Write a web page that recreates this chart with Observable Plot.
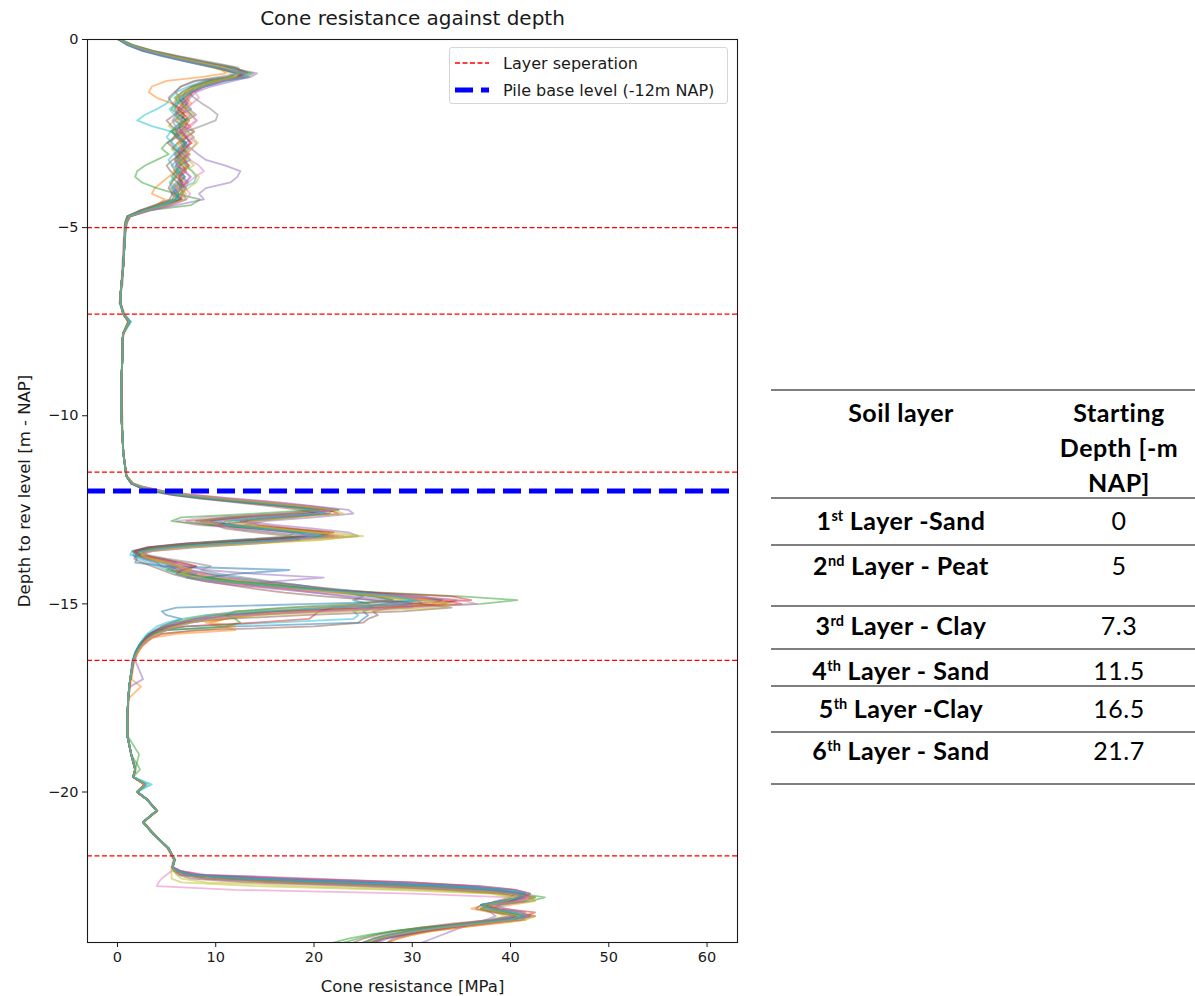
<!DOCTYPE html>
<html>
<head>
<meta charset="utf-8">
<script src="https://cdn.jsdelivr.net/npm/d3@7"></script>
<script src="https://cdn.jsdelivr.net/npm/@observablehq/plot@0.6"></script>
<style>
  html, body { margin: 0; padding: 0; background: #fff; }
  body { width: 1195px; height: 996px; overflow: hidden; position: relative; font-family: "DejaVu Sans", sans-serif; }
  #chart { position: absolute; left: 0; top: 0; }
  #legend { position: absolute; left: 449px; top: 47px; width: 277px; height: 55px; border: 1px solid #d6d6d6; border-radius: 3px; background: rgba(255,255,255,0.85); color: #1a1a1a; font-size: 16px; }
  #legend .item { position: absolute; left: 5px; height: 20px; display: flex; align-items: center; white-space: nowrap; }
  #legend svg { margin-right: 14px; }
  #table { position: absolute; left: 0; top: 0; width: 1195px; height: 996px; pointer-events: none; font-family: Lato, "Open Sans", sans-serif; color: #000; }
  #table .rule { position: absolute; left: 771px; width: 424px; height: 2px; background: #7f7f7f; }
  #table .cell { position: absolute; transform: translate(-50%, -50%); white-space: nowrap; font-size: 25px; letter-spacing: 0.5px; line-height: 1; }
  #table .b { font-weight: 700; }
  #table sup { font-size: 0.58em; vertical-align: 0.6em; line-height: 0; letter-spacing: 0; }
</style>
</head>
<body>
<div id="chart"></div>
<div id="legend"></div>
<div id="table"></div>
<script>
// ---------------- data ----------------
// depth below reference level [m]; each CPT trace below gives cone resistance [MPa] at these depths
const depthM = [
  0, 0.15, 0.3, 0.45, 0.6, 0.75, 0.9, 1.0, 1.1, 1.25, 1.4, 1.55, 1.7, 1.85, 2.0, 2.15, 2.3, 2.45, 2.6, 2.75, 2.9, 3.05, 3.2, 3.35, 3.5, 3.65, 3.8, 3.95, 4.1, 4.25, 4.4, 4.55, 4.7,
  4.85, 5.0, 5.5, 6.0, 6.5, 6.8, 7.0, 7.3, 7.5, 7.8, 8.0, 8.5, 9.0, 10.0, 11.0, 11.6,
  11.8, 11.9, 12.0, 12.1, 12.2, 12.3, 12.4, 12.5, 12.6, 12.7, 12.8, 12.9, 13.0, 13.1, 13.2, 13.3, 13.4, 13.5, 13.6, 13.7, 13.8, 13.9, 14.0, 14.1, 14.2, 14.3, 14.4, 14.5, 14.6, 14.7, 14.8, 14.9, 15.0, 15.1, 15.2, 15.3, 15.4, 15.5, 15.6, 15.7, 15.8, 15.9, 16.0, 16.1, 16.2, 16.3,
  16.5, 17.0, 17.2, 17.5, 18.0, 18.5, 19.0, 19.4, 19.6, 19.8, 20.0, 20.2, 20.5, 20.8, 21.1, 21.5, 21.8, 22.0,
  22.1, 22.2, 22.3, 22.4, 22.5, 22.6, 22.7, 22.8, 22.9, 23.0, 23.1, 23.2, 23.3, 23.4, 23.5, 23.6, 23.7, 23.8, 23.9, 24.0
];
const q01 = [
  0.1, 1.0, 2.5, 4.6, 7.2, 9.8, 12.2, 12.6, 10.0, 8.2, 7.1, 6.0, 6.9, 7.5, 6.4, 5.8, 6.6, 7.8, 7.0, 6.1, 5.6, 6.8, 7.4, 6.3, 5.9, 6.6, 7.2, 6.1, 5.5, 6.3, 4.8, 2.9, 1.1,
  0.9, 0.8, 0.7, 0.6, 0.4, 0.3, 0.2, 0.6, 1.1, 0.6, 0.5, 0.5, 0.4, 0.4, 0.6, 0.9,
  1.4, 2.3, 3.8, 6.0, 9.5, 13.5, 17.5, 20.5, 18.0, 12.0, 9.0, 11.5, 17.0, 21.0, 19.0, 12.0, 6.5, 3.0, 1.8, 2.4, 4.5, 6.0, 5.0, 7.5, 9.5, 12.0, 15.0, 18.5, 21.0, 23.5, 25.0, 24.0, 25.5, 26.0, 25.0, 25.5, 25.0, 24.5, 12.0, 5.0, 3.5, 3.0, 2.5, 2.2, 2.0, 1.8,
  1.5, 1.3, 1.2, 1.1, 1.0, 1.0, 1.4, 1.8, 1.6, 2.9, 2.0, 3.1, 4.0, 2.6, 3.6, 5.2, 5.9, 5.6,
  6.2, 7.5, 14.0, 25.0, 34.0, 39.0, 41.5, 41.0, 39.0, 37.0, 38.5, 40.5, 41.0, 39.0, 36.0, 33.0, 30.5, 28.5, 27.0, 26.0
];
const q02 = [
  0.2, 1.4, 3.2, 5.5, 8.0, 10.5, 11.0, 8.5, 5.0, 3.5, 3.2, 4.0, 5.5, 6.5, 7.2, 6.0, 6.6, 5.4, 6.9, 7.6, 6.5, 5.8, 6.2, 7.0, 6.0, 5.2, 4.5, 3.8, 3.5, 4.8, 4.0, 2.5, 1.3,
  1.0, 0.8, 0.7, 0.6, 0.5, 0.3, 0.3, 0.7, 1.3, 0.7, 0.5, 0.5, 0.4, 0.5, 0.6, 1.0,
  1.6, 2.8, 4.5, 7.0, 11.0, 15.5, 19.5, 22.5, 20.0, 13.0, 8.5, 10.0, 15.0, 19.5, 22.0, 16.0, 10.0, 4.5, 2.5, 3.0, 4.0, 5.5, 7.0, 6.0, 8.0, 10.0, 13.0, 17.0, 21.0, 25.0, 29.0, 33.0, 32.0, 26.0, 18.0, 13.0, 11.0, 9.5, 12.0, 9.0, 4.5, 3.5, 3.0, 2.6, 2.3, 2.0,
  1.7, 1.4, 2.4, 1.2, 1.0, 1.0, 1.4, 1.9, 1.6, 2.7, 2.1, 3.0, 4.1, 2.7, 3.7, 5.1, 5.7, 5.5,
  5.8, 6.5, 10.0, 19.0, 30.0, 37.0, 40.5, 42.5, 41.0, 37.5, 36.0, 38.0, 41.0, 41.5, 38.0, 35.0, 32.0, 30.0, 28.5, 27.5
];
const q03 = [
  0.3, 1.3, 2.9, 5.2, 8.0, 11.0, 13.8, 13.0, 10.5, 8.8, 7.5, 6.8, 6.0, 5.5, 6.2, 7.0, 6.4, 5.6, 6.0, 5.0, 4.5, 5.2, 4.0, 2.8, 2.0, 1.8, 2.5, 4.0, 6.0, 8.4, 7.5, 3.0, 1.2,
  0.8, 0.8, 0.7, 0.6, 0.4, 0.3, 0.3, 0.6, 1.1, 0.6, 0.5, 0.5, 0.4, 0.4, 0.6, 0.9,
  1.5, 2.5, 4.0, 6.5, 10.0, 14.5, 18.5, 22.0, 21.5, 15.0, 11.0, 10.5, 12.0, 15.5, 19.0, 14.0, 9.0, 4.5, 2.2, 1.8, 3.0, 4.5, 6.0, 5.0, 6.5, 8.0, 11.0, 15.0, 20.0, 27.0, 35.0, 40.7, 37.0, 28.0, 16.0, 10.0, 7.5, 6.0, 5.0, 4.0, 3.2, 2.8, 2.5, 2.2, 2.0, 1.9,
  1.6, 1.3, 1.2, 1.1, 1.0, 1.0, 2.2, 1.8, 1.6, 2.8, 2.0, 3.0, 4.0, 2.6, 3.6, 5.2, 5.8, 5.6,
  6.0, 6.8, 9.0, 17.0, 28.0, 36.0, 41.0, 43.5, 42.0, 39.0, 38.0, 40.0, 42.5, 40.0, 35.0, 31.0, 28.0, 25.5, 23.5, 22.0
];
const q04 = [
  0.1, 1.3, 3.0, 5.3, 7.8, 10.2, 12.8, 12.0, 9.2, 7.6, 6.9, 6.6, 7.2, 6.3, 6.8, 6.5, 7.4, 6.7, 6.0, 6.9, 6.4, 7.1, 6.2, 6.6, 7.0, 6.3, 6.6, 5.8, 6.2, 6.1, 4.4, 2.7, 1.1,
  0.9, 0.8, 0.7, 0.6, 0.4, 0.3, 0.3, 0.6, 1.2, 0.6, 0.5, 0.5, 0.4, 0.4, 0.6, 0.9,
  1.5, 2.4, 4.0, 6.5, 10.0, 14.0, 18.0, 21.0, 19.5, 13.0, 9.5, 12.0, 16.5, 20.5, 21.5, 15.5, 9.0, 4.0, 2.0, 1.9, 3.5, 5.0, 6.2, 5.5, 7.2, 9.0, 12.0, 16.0, 20.0, 24.0, 28.0, 33.0, 35.0, 27.0, 16.0, 11.0, 9.0, 7.0, 5.5, 4.5, 3.8, 3.2, 2.8, 2.4, 2.1, 1.9,
  1.6, 1.3, 1.2, 1.1, 1.0, 1.0, 1.4, 1.8, 1.6, 2.8, 2.0, 3.0, 4.0, 2.6, 3.6, 5.2, 5.8, 5.6,
  6.0, 7.0, 12.0, 22.0, 32.0, 38.0, 41.0, 42.0, 40.5, 38.0, 37.0, 39.0, 41.5, 40.0, 37.0, 34.0, 31.0, 29.0, 27.0, 26.0
];
const q05 = [
  0.2, 1.5, 3.4, 5.8, 8.5, 11.5, 14.2, 13.5, 11.0, 8.8, 7.6, 7.0, 6.5, 7.3, 8.0, 7.0, 6.4, 7.2, 7.8, 6.9, 7.5, 8.2, 9.0, 11.0, 12.5, 12.2, 11.5, 9.0, 8.3, 8.8, 6.0, 3.2, 1.3,
  1.0, 0.9, 0.7, 0.6, 0.5, 0.3, 0.3, 0.6, 1.2, 0.6, 0.5, 0.5, 0.4, 0.4, 0.6, 0.9,
  1.4, 2.2, 3.5, 5.5, 8.5, 12.5, 16.5, 20.0, 21.5, 17.0, 13.0, 16.0, 20.0, 23.5, 24.5, 18.0, 11.0, 5.5, 3.0, 2.5, 3.0, 5.0, 7.0, 9.0, 14.0, 21.0, 16.0, 13.0, 17.0, 20.0, 24.0, 28.0, 30.0, 26.0, 20.0, 14.0, 10.0, 7.5, 6.0, 5.0, 4.0, 3.0, 2.7, 2.4, 2.2, 2.0,
  1.8, 2.6, 1.3, 1.1, 1.0, 1.0, 1.4, 1.8, 1.6, 2.8, 2.0, 3.0, 4.0, 2.6, 3.6, 5.2, 5.8, 5.7,
  6.5, 9.0, 20.0, 30.0, 36.0, 39.0, 40.5, 40.0, 38.5, 37.5, 37.0, 38.0, 38.5, 37.5, 36.0, 35.0, 34.0, 33.0, 32.0, 31.0
];
const q06 = [
  0.1, 1.1, 2.7, 4.9, 7.4, 9.9, 12.4, 12.3, 9.8, 7.9, 7.3, 6.2, 6.6, 7.0, 6.5, 6.9, 6.2, 6.6, 7.1, 6.4, 6.9, 6.0, 6.5, 7.2, 6.4, 5.9, 6.7, 6.3, 5.8, 6.6, 5.0, 3.0, 1.2,
  0.9, 0.8, 0.7, 0.6, 0.4, 0.3, 0.3, 0.7, 1.3, 0.6, 0.5, 0.5, 0.4, 0.4, 0.6, 0.9,
  1.4, 2.3, 3.9, 6.2, 9.8, 14.0, 18.5, 22.0, 19.0, 11.0, 7.0, 9.0, 14.0, 19.0, 21.0, 14.0, 7.0, 3.0, 1.5, 2.0, 3.5, 6.0, 8.0, 7.0, 9.0, 11.0, 14.0, 18.0, 22.0, 26.0, 30.0, 34.5, 33.0, 28.0, 26.0, 26.5, 25.5, 25.0, 20.0, 8.0, 4.5, 3.5, 3.0, 2.5, 2.2, 2.0,
  1.6, 1.3, 1.2, 1.1, 1.0, 1.0, 1.4, 1.8, 1.6, 2.8, 2.0, 3.0, 4.0, 2.6, 3.6, 5.1, 5.8, 5.6,
  6.0, 7.2, 13.0, 24.0, 33.0, 38.5, 41.0, 41.5, 40.0, 37.5, 38.0, 40.0, 40.5, 38.0, 34.0, 31.0, 28.5, 26.5, 25.0, 24.0
];
const q07 = [
  0.2, 1.4, 3.1, 5.4, 8.2, 10.8, 12.0, 11.5, 9.0, 7.4, 6.5, 6.1, 5.8, 6.5, 7.6, 8.0, 7.2, 6.3, 5.9, 6.5, 7.3, 6.8, 6.1, 6.0, 6.9, 7.5, 6.8, 6.0, 6.5, 6.2, 4.6, 2.8, 1.2,
  0.9, 0.8, 0.7, 0.6, 0.4, 0.3, 0.3, 0.6, 1.2, 0.6, 0.5, 0.5, 0.4, 0.4, 0.6, 0.9,
  1.6, 2.7, 4.3, 7.0, 11.0, 15.0, 18.5, 21.0, 16.0, 9.0, 6.0, 8.0, 13.0, 18.5, 23.0, 17.0, 10.0, 5.0, 2.8, 2.5, 4.0, 5.5, 7.5, 6.5, 8.5, 10.5, 13.5, 17.0, 21.0, 25.0, 29.0, 31.0, 27.0, 18.0, 12.0, 9.5, 8.0, 6.5, 5.5, 4.5, 3.8, 3.3, 2.9, 2.5, 2.2, 2.0,
  1.6, 1.3, 1.2, 1.1, 1.0, 1.0, 1.4, 1.8, 1.6, 2.8, 2.0, 3.0, 4.0, 2.6, 3.6, 5.2, 5.8, 5.5,
  5.5, 5.0, 4.5, 4.2, 4.0, 12.0, 30.0, 40.0, 41.5, 39.0, 38.0, 40.0, 40.5, 38.0, 35.0, 32.0, 30.0, 28.0, 27.0, 26.5
];
const q08 = [
  0.2, 1.2, 2.8, 5.0, 7.6, 10.3, 12.9, 12.4, 9.6, 7.8, 7.2, 7.8, 8.6, 9.5, 10.2, 10.0, 8.5, 7.0, 6.5, 6.8, 6.2, 6.7, 7.0, 6.2, 6.5, 6.8, 6.1, 6.5, 6.0, 5.9, 4.3, 2.6, 1.1,
  0.9, 0.8, 0.7, 0.6, 0.4, 0.3, 0.3, 0.6, 1.2, 0.6, 0.5, 0.5, 0.4, 0.4, 0.6, 0.9,
  1.5, 2.4, 3.9, 6.2, 9.5, 13.5, 17.0, 20.5, 20.0, 15.0, 12.0, 13.5, 17.5, 21.5, 20.0, 13.0, 7.5, 3.5, 1.6, 2.2, 3.8, 5.2, 6.0, 6.5, 7.5, 8.5, 11.0, 14.5, 18.0, 22.0, 26.0, 30.5, 31.0, 24.0, 15.0, 10.0, 8.0, 6.5, 5.2, 4.2, 3.6, 3.1, 2.7, 2.4, 2.1, 1.9,
  1.6, 1.3, 1.2, 1.1, 1.0, 1.0, 1.4, 1.8, 1.6, 2.8, 2.0, 3.0, 4.0, 2.6, 3.6, 5.2, 5.8, 5.6,
  6.1, 7.0, 11.0, 20.0, 31.0, 37.5, 40.5, 41.5, 40.0, 38.0, 37.5, 39.5, 41.0, 40.5, 37.5, 34.0, 31.5, 29.5, 27.5, 26.5
];
const q09 = [
  0.3, 1.3, 3.0, 5.1, 7.5, 9.8, 11.5, 11.8, 10.2, 8.4, 7.3, 6.2, 5.6, 6.0, 6.6, 5.8, 5.2, 6.0, 6.8, 6.3, 5.5, 6.0, 7.2, 7.8, 6.6, 5.8, 5.5, 6.2, 7.0, 6.4, 4.2, 2.4, 1.0,
  0.8, 0.8, 0.7, 0.6, 0.4, 0.3, 0.3, 0.6, 1.1, 0.6, 0.5, 0.5, 0.4, 0.4, 0.6, 0.9,
  1.5, 2.5, 4.1, 6.5, 10.0, 14.0, 17.0, 19.5, 18.5, 14.0, 11.0, 13.0, 17.0, 22.0, 25.0, 20.0, 12.0, 6.0, 3.0, 2.2, 3.0, 4.5, 5.5, 7.0, 8.0, 9.5, 12.5, 16.0, 20.0, 24.0, 27.0, 29.0, 27.0, 20.0, 13.0, 9.0, 7.0, 5.5, 4.5, 4.0, 3.5, 3.0, 2.7, 2.4, 2.1, 1.9,
  1.6, 1.3, 1.2, 1.1, 1.0, 1.0, 1.4, 1.8, 1.6, 2.8, 2.0, 3.0, 4.0, 2.6, 3.6, 5.2, 5.8, 5.6,
  5.5, 5.5, 5.5, 6.5, 14.0, 28.0, 38.0, 40.0, 39.0, 38.0, 37.0, 38.5, 39.5, 38.0, 35.0, 32.0, 29.5, 27.5, 26.0, 25.0
];
const q10 = [
  0.2, 1.2, 2.9, 5.2, 7.9, 10.4, 12.0, 11.2, 8.8, 7.2, 6.0, 5.4, 5.0, 4.0, 2.8, 2.0, 3.5, 5.5, 6.4, 7.0, 6.3, 5.8, 6.4, 7.0, 7.6, 8.0, 7.8, 6.5, 6.0, 6.2, 4.5, 2.7, 1.1,
  0.9, 0.8, 0.7, 0.6, 0.4, 0.3, 0.3, 0.6, 1.4, 0.6, 0.5, 0.5, 0.4, 0.4, 0.6, 0.9,
  1.5, 2.6, 4.2, 6.8, 10.5, 14.5, 18.0, 21.5, 20.5, 14.5, 10.0, 11.5, 15.0, 19.0, 22.0, 16.0, 9.5, 4.0, 1.5, 1.3, 2.5, 4.0, 5.5, 6.0, 7.0, 9.0, 12.0, 16.0, 21.0, 26.0, 29.0, 30.0, 27.0, 25.0, 24.0, 24.5, 24.0, 16.0, 7.0, 4.5, 3.5, 3.0, 2.6, 2.3, 2.1, 1.9,
  1.6, 1.3, 1.2, 1.1, 1.0, 1.0, 1.4, 1.8, 1.6, 3.5, 2.0, 3.0, 4.0, 2.6, 3.6, 5.2, 5.8, 5.6,
  6.0, 7.0, 12.5, 23.0, 33.0, 38.5, 40.5, 41.0, 39.5, 37.0, 37.5, 40.0, 41.0, 39.5, 36.5, 33.0, 30.0, 28.0, 26.5, 26.0
];
const q11 = [
  0.1, 1.4, 3.3, 5.7, 8.4, 11.2, 13.0, 12.5, 10.2, 8.5, 7.5, 6.8, 6.2, 5.8, 6.3, 7.1, 6.6, 5.9, 6.3, 7.0, 6.6, 7.3, 6.5, 5.9, 6.2, 6.9, 6.3, 5.6, 5.9, 6.5, 4.9, 3.0, 1.2,
  0.9, 0.8, 0.7, 0.6, 0.4, 0.3, 0.3, 0.6, 1.2, 0.6, 0.5, 0.5, 0.4, 0.4, 0.6, 0.9,
  1.4, 2.4, 4.0, 6.6, 10.5, 15.0, 19.5, 22.5, 19.0, 12.5, 8.0, 9.5, 14.0, 18.0, 20.0, 14.5, 8.0, 3.5, 1.8, 1.6, 2.0, 1.8, 5.0, 17.5, 12.0, 9.0, 11.0, 15.0, 20.0, 25.0, 31.0, 33.0, 20.0, 6.0, 4.5, 5.0, 6.5, 5.5, 4.5, 3.8, 3.2, 2.8, 2.5, 2.2, 2.0, 1.8,
  1.6, 1.3, 1.2, 1.1, 1.0, 1.0, 1.4, 1.8, 1.6, 2.8, 2.0, 3.0, 4.0, 2.6, 3.6, 5.2, 5.8, 5.6,
  6.3, 7.8, 15.0, 26.0, 35.0, 40.0, 41.5, 41.0, 39.5, 37.5, 38.0, 41.0, 42.0, 40.0, 36.5, 33.5, 31.0, 29.0, 27.0, 26.0
];
const q12 = [
  0.2, 1.3, 3.0, 5.4, 8.0, 10.6, 12.6, 12.8, 10.4, 8.6, 7.4, 7.0, 7.5, 6.8, 6.1, 6.5, 7.3, 7.8, 6.9, 6.1, 6.6, 7.4, 6.8, 6.2, 5.7, 6.3, 7.0, 6.6, 6.0, 5.6, 4.2, 2.5, 1.0,
  1.0, 0.8, 0.7, 0.6, 0.4, 0.3, 0.3, 0.6, 1.2, 0.6, 0.5, 0.5, 0.4, 0.4, 0.6, 0.9,
  1.6, 2.6, 4.4, 7.2, 11.0, 15.5, 19.0, 21.0, 17.5, 11.5, 8.0, 10.5, 15.5, 20.0, 22.5, 17.5, 10.5, 5.0, 2.4, 2.0, 3.5, 5.0, 6.0, 7.5, 6.5, 8.0, 10.0, 13.0, 17.0, 22.0, 27.0, 32.0, 33.5, 28.0, 19.0, 14.0, 11.0, 9.0, 10.5, 12.0, 6.0, 3.5, 3.0, 2.6, 2.3, 2.1,
  1.7, 1.4, 1.3, 1.1, 1.0, 1.0, 1.4, 1.8, 1.6, 2.8, 2.0, 3.0, 4.0, 2.6, 3.6, 5.2, 5.8, 5.6,
  5.9, 6.6, 9.5, 17.0, 27.0, 34.0, 39.0, 42.0, 42.5, 40.0, 38.0, 41.0, 42.5, 41.5, 38.5, 35.0, 32.0, 30.0, 28.5, 27.5
];
const q13 = [
  0.3, 1.6, 3.5, 6.0, 8.8, 11.8, 13.5, 12.2, 9.4, 7.6, 6.6, 5.8, 6.3, 7.0, 7.5, 6.8, 6.0, 5.5, 6.1, 6.7, 7.2, 6.4, 5.9, 6.5, 6.0, 5.5, 6.1, 6.8, 6.4, 5.8, 4.0, 2.3, 1.0,
  0.8, 0.8, 0.7, 0.6, 0.4, 0.3, 0.3, 0.6, 1.2, 0.6, 0.5, 0.5, 0.4, 0.4, 0.6, 0.9,
  1.5, 2.4, 3.8, 6.0, 9.5, 13.0, 17.0, 20.0, 14.0, 6.5, 5.5, 9.0, 14.5, 18.5, 19.5, 13.5, 8.0, 4.0, 2.3, 2.0, 3.0, 4.0, 4.5, 5.5, 7.0, 9.5, 12.0, 16.5, 19.5, 23.0, 26.0, 28.0, 24.0, 17.0, 12.0, 11.0, 12.0, 12.5, 11.0, 5.0, 3.6, 3.0, 2.6, 2.3, 2.1, 1.9,
  1.6, 1.3, 1.2, 1.1, 1.0, 1.0, 1.4, 2.3, 1.6, 2.8, 2.0, 3.0, 4.0, 2.6, 3.6, 5.2, 5.8, 5.6,
  5.8, 6.5, 9.0, 16.0, 27.0, 35.0, 40.0, 42.5, 41.5, 38.5, 37.0, 39.0, 42.0, 41.0, 36.0, 31.5, 28.0, 26.0, 24.5, 23.0
];
const q14 = [
  0.1, 1.2, 2.8, 5.1, 7.7, 10.1, 12.3, 12.9, 10.8, 8.9, 7.7, 7.2, 6.7, 6.1, 6.8, 7.3, 6.9, 6.3, 7.0, 7.5, 6.9, 6.3, 6.8, 7.3, 6.7, 6.2, 6.4, 7.0, 6.6, 6.4, 5.2, 3.1, 1.3,
  0.9, 0.8, 0.7, 0.6, 0.4, 0.3, 0.3, 0.6, 1.2, 0.6, 0.5, 0.5, 0.4, 0.4, 0.6, 0.9,
  1.4, 2.2, 3.6, 5.8, 9.0, 13.0, 17.0, 21.5, 22.5, 16.5, 12.5, 14.5, 18.0, 22.0, 20.5, 13.5, 7.0, 3.2, 1.7, 2.3, 4.5, 6.5, 8.0, 6.5, 6.0, 7.5, 10.0, 14.0, 19.0, 26.0, 34.0, 36.0, 29.0, 22.0, 20.5, 20.0, 19.5, 14.0, 7.0, 4.0, 3.4, 3.0, 2.6, 2.3, 2.1, 1.9,
  1.6, 1.3, 1.2, 1.1, 1.0, 1.0, 1.4, 1.8, 1.6, 2.8, 2.0, 3.0, 4.0, 2.6, 3.6, 5.2, 5.8, 5.6,
  6.4, 8.5, 18.0, 30.0, 37.0, 40.5, 42.0, 41.0, 39.0, 37.0, 39.0, 42.5, 41.5, 39.0, 35.0, 32.0, 29.5, 27.5, 26.0, 25.0
];
const q15 = [
  0.2, 1.1, 2.6, 4.8, 7.3, 10.0, 12.6, 13.4, 11.8, 9.5, 8.0, 7.4, 7.0, 6.6, 6.0, 5.6, 5.9, 6.5, 7.1, 7.3, 6.8, 6.2, 5.8, 6.1, 6.8, 7.4, 7.0, 6.4, 6.7, 7.0, 5.5, 3.3, 1.3,
  0.9, 0.8, 0.7, 0.6, 0.4, 0.3, 0.3, 0.6, 1.2, 0.6, 0.5, 0.5, 0.4, 0.4, 0.6, 0.9,
  1.5, 2.6, 4.5, 7.5, 12.0, 16.5, 20.0, 23.5, 24.0, 20.0, 15.0, 13.0, 14.5, 17.5, 19.5, 17.0, 12.0, 6.0, 2.8, 2.0, 2.6, 3.5, 4.5, 6.5, 8.0, 7.0, 9.0, 12.0, 16.0, 20.0, 23.0, 26.0, 28.5, 30.0, 22.0, 12.0, 8.0, 6.0, 4.8, 4.0, 3.4, 3.0, 2.6, 2.3, 2.1, 1.9,
  1.7, 1.3, 1.2, 1.1, 1.0, 1.0, 1.4, 1.8, 1.6, 2.8, 2.0, 3.0, 4.0, 2.6, 3.6, 5.2, 5.8, 5.6,
  6.2, 7.8, 16.0, 28.0, 36.5, 40.5, 42.0, 41.5, 40.0, 38.5, 39.5, 41.5, 41.0, 38.5, 35.5, 33.0, 31.0, 29.5, 28.0, 27.5
];
const q16 = [
  0.1, 1.5, 3.6, 6.2, 9.0, 12.0, 13.2, 11.0, 8.0, 6.5, 5.8, 5.2, 5.6, 6.3, 5.8, 5.0, 5.5, 6.2, 5.7, 5.1, 5.8, 6.4, 5.6, 5.0, 5.4, 6.0, 5.5, 5.2, 5.6, 5.3, 3.8, 2.2, 1.0,
  0.8, 0.7, 0.6, 0.5, 0.4, 0.3, 0.3, 0.6, 1.1, 0.6, 0.5, 0.5, 0.4, 0.4, 0.6, 0.9,
  1.4, 2.2, 3.5, 5.5, 8.5, 12.0, 15.5, 18.5, 20.5, 18.0, 13.5, 10.0, 11.0, 14.0, 17.5, 18.5, 14.0, 8.0, 3.5, 2.0, 1.7, 2.5, 3.5, 4.5, 5.5, 7.0, 9.0, 11.5, 14.0, 17.0, 21.0, 26.0, 31.0, 34.0, 29.0, 19.0, 11.0, 7.0, 5.0, 4.0, 3.3, 2.9, 2.6, 2.3, 2.0, 1.8,
  1.6, 1.3, 1.2, 1.1, 1.0, 1.0, 1.4, 1.8, 1.6, 2.8, 2.0, 3.0, 4.0, 2.6, 3.6, 5.2, 5.8, 5.6,
  5.7, 6.2, 7.5, 13.0, 24.0, 33.0, 39.0, 41.0, 40.0, 37.0, 36.5, 38.5, 40.5, 40.0, 37.0, 34.0, 31.5, 29.0, 27.0, 25.5
];
const q17 = [
  0.2, 1.3, 3.0, 5.3, 8.0, 10.9, 13.0, 12.7, 10.6, 8.7, 7.9, 8.3, 7.6, 7.0, 7.4, 8.1, 7.5, 6.8, 7.3, 8.0, 7.6, 7.0, 7.4, 8.3, 8.8, 7.9, 7.2, 6.9, 7.4, 7.0, 5.3, 3.1, 1.2,
  0.9, 0.8, 0.7, 0.6, 0.4, 0.3, 0.3, 0.6, 1.2, 0.6, 0.5, 0.5, 0.4, 0.4, 0.6, 0.9,
  1.6, 2.8, 4.6, 7.5, 11.5, 16.0, 19.5, 22.0, 20.0, 14.0, 10.5, 10.0, 12.0, 16.0, 20.0, 18.5, 13.0, 7.0, 3.5, 2.5, 3.0, 4.5, 6.0, 7.0, 9.0, 8.0, 9.5, 13.0, 18.0, 24.0, 30.0, 35.0, 36.5, 30.0, 20.0, 13.0, 9.5, 7.5, 6.0, 5.0, 4.2, 3.5, 3.0, 2.6, 2.3, 2.0,
  1.6, 1.3, 1.2, 1.1, 1.0, 1.0, 1.4, 1.8, 1.6, 2.8, 2.0, 3.0, 4.0, 2.6, 3.6, 5.2, 5.8, 5.6,
  6.0, 6.6, 8.5, 15.0, 26.0, 35.0, 40.5, 42.0, 41.0, 38.0, 37.5, 40.5, 42.0, 40.5, 37.0, 33.5, 30.5, 28.5, 27.0, 26.0
];
const q18 = [
  0.3, 1.6, 3.7, 6.4, 9.5, 12.3, 12.5, 10.2, 7.8, 6.4, 5.9, 6.4, 7.1, 6.5, 5.9, 6.3, 7.0, 6.5, 5.8, 5.4, 6.0, 6.6, 6.1, 5.5, 5.9, 6.5, 6.0, 5.4, 5.8, 5.6, 4.0, 2.4, 1.1,
  0.9, 0.8, 0.7, 0.6, 0.4, 0.3, 0.3, 0.6, 1.2, 0.6, 0.5, 0.5, 0.4, 0.4, 0.6, 0.9,
  1.5, 2.5, 4.0, 6.3, 9.8, 14.0, 18.0, 20.5, 17.0, 11.0, 8.5, 11.0, 15.5, 18.0, 17.5, 12.5, 7.5, 4.0, 2.5, 3.0, 5.0, 7.5, 9.5, 8.5, 10.5, 13.0, 15.5, 18.5, 21.5, 24.0, 26.5, 28.0, 25.0, 21.0, 16.0, 12.0, 9.0, 7.0, 5.5, 4.3, 3.6, 3.1, 2.7, 2.4, 2.1, 1.9,
  1.6, 1.3, 1.2, 1.1, 1.0, 1.0, 1.4, 1.8, 1.6, 2.8, 2.0, 3.0, 4.0, 2.6, 3.6, 5.2, 5.8, 5.6,
  6.1, 7.2, 12.0, 21.0, 31.5, 38.0, 41.0, 41.0, 39.0, 37.0, 38.0, 40.0, 40.0, 38.0, 35.0, 32.5, 30.0, 28.0, 26.5, 25.5
];
const q19 = [
  0.2, 1.4, 3.3, 5.6, 8.3, 11.0, 12.4, 11.9, 9.9, 8.0, 6.8, 6.0, 6.4, 7.2, 7.8, 7.2, 6.5, 7.0, 7.6, 8.2, 7.5, 6.9, 6.3, 6.8, 7.6, 8.3, 8.0, 7.2, 6.5, 6.9, 5.0, 2.9, 1.2,
  0.9, 0.8, 0.7, 0.6, 0.4, 0.3, 0.3, 0.6, 1.2, 0.6, 0.5, 0.5, 0.4, 0.4, 0.6, 0.9,
  1.5, 2.5, 4.1, 6.6, 10.2, 14.5, 18.5, 22.0, 23.0, 18.0, 13.5, 13.0, 16.0, 20.0, 24.0, 21.0, 14.0, 7.0, 3.0, 2.4, 3.5, 5.0, 6.5, 7.5, 6.5, 8.0, 11.0, 15.0, 19.0, 23.0, 27.0, 30.0, 34.0, 33.0, 24.0, 15.0, 10.0, 7.5, 6.0, 4.8, 4.0, 3.3, 2.8, 2.5, 2.2, 2.0,
  1.6, 1.3, 1.2, 1.1, 1.0, 1.0, 1.4, 1.8, 1.6, 2.8, 2.0, 3.0, 4.0, 2.6, 3.6, 5.2, 5.8, 5.6,
  5.8, 6.0, 6.5, 9.0, 19.0, 31.0, 38.5, 40.5, 39.5, 37.5, 37.0, 39.0, 41.0, 40.0, 36.5, 33.0, 30.5, 28.0, 26.5, 25.5
];
const q20 = [
  0.1, 1.2, 2.9, 5.0, 7.5, 10.2, 12.7, 13.1, 11.0, 8.8, 7.4, 6.5, 5.9, 5.3, 5.8, 6.6, 6.0, 5.4, 5.0, 5.6, 6.3, 5.7, 5.2, 5.6, 6.3, 5.8, 5.3, 5.7, 6.2, 5.9, 4.6, 2.8, 1.1,
  0.9, 0.8, 0.7, 0.6, 0.4, 0.3, 0.3, 0.6, 1.3, 0.6, 0.5, 0.5, 0.4, 0.4, 0.6, 0.9,
  1.4, 2.3, 3.8, 6.0, 9.2, 13.0, 17.0, 20.0, 21.0, 16.0, 11.5, 11.0, 14.5, 18.5, 21.0, 17.0, 11.0, 5.5, 2.5, 1.9, 2.2, 3.0, 4.0, 5.0, 6.0, 7.5, 10.5, 14.5, 19.5, 24.5, 28.0, 30.5, 29.0, 22.0, 14.0, 9.0, 6.5, 5.0, 4.0, 3.5, 3.0, 2.7, 2.4, 2.2, 2.0, 1.8,
  1.6, 1.3, 1.2, 1.1, 1.0, 1.0, 1.4, 1.8, 1.6, 3.2, 2.0, 3.0, 4.0, 2.6, 3.6, 5.2, 5.8, 5.6,
  6.2, 7.4, 13.5, 24.0, 34.0, 39.5, 41.5, 41.0, 39.0, 37.0, 38.0, 40.5, 41.5, 39.5, 36.0, 32.5, 29.5, 27.5, 26.0, 25.0
];
const layerOrdinal = ["1", "2", "3", "4", "5", "6"];
const layerSuffix = ["st", "nd", "rd", "th", "th", "th"];
const layerName = ["Layer -Sand", "Layer - Peat", "Layer - Clay", "Layer - Sand", "Layer -Clay", "Layer - Sand"];
const layerStart = [0, 5, 7.3, 11.5, 16.5, 21.7];
const pileBase = 12;
const xTicks = [0, 10, 20, 30, 40, 50, 60];
const yTicks = [0, -5, -10, -15, -20];

// ---------------- styles / layout ----------------
const tab10 = ["#1f77b4", "#ff7f0e", "#2ca02c", "#d62728", "#9467bd", "#8c564b", "#e377c2", "#7f7f7f", "#bcbd22", "#17becf"];
const traces = [q01, q02, q03, q04, q05, q06, q07, q08, q09, q10, q11, q12, q13, q14, q15, q16, q17, q18, q19, q20];
const traceColorIndex = [0, 1, 2, 3, 4, 5, 6, 7, 8, 9, 0, 1, 2, 3, 4, 5, 6, 7, 8, 9];

const rows = [];
traces.forEach((q, i) => q.forEach((v, j) => {
  if (j < depthM.length) rows.push({trace: i, qc: v, depth: -depthM[j], color: tab10[traceColorIndex[i]]});
}));

const minus = d => d < 0 ? "\u2212" + (-d) : String(d);

const chart = Plot.plot({
  width: 760,
  height: 996,
  marginLeft: 87,
  marginRight: 23,
  marginTop: 39,
  marginBottom: 54,
  style: {fontFamily: "DejaVu Sans", fontSize: "14.5px", color: "#1a1a1a", background: "white", overflow: "visible"},
  x: {domain: [-3.05, 63.1]},
  y: {domain: [-24, 0]},
  color: {type: "identity"},
  marks: [
    Plot.line(rows, {x: "qc", y: "depth", z: "trace", stroke: "color", strokeOpacity: 0.5, strokeWidth: 1.8, clip: true}),
    Plot.ruleY(layerStart.slice(1).map(d => -d), {stroke: "red", strokeWidth: 1.3, strokeDasharray: "5,2.5"}),
    Plot.ruleY([-pileBase], {stroke: "blue", strokeWidth: 5, strokeDasharray: "18,8"}),
    Plot.frame({stroke: "#1a1a1a", strokeWidth: 1.1}),
    Plot.axisX({ticks: xTicks, tickSize: 5, tickPadding: 4, label: null}),
    Plot.axisY({ticks: yTicks, tickSize: 5, tickPadding: 4, tickFormat: minus, label: null}),
    Plot.text(["Cone resistance [MPa]"], {frameAnchor: "bottom", dy: 44, lineAnchor: "middle", fontSize: 16.5}),
    Plot.text(["Depth to rev level [m - NAP]"], {frameAnchor: "left", dx: -63, rotate: -90, lineAnchor: "middle", textAnchor: "middle", fontSize: 16.5}),
    Plot.text(["Cone resistance against depth"], {frameAnchor: "top", dy: -21, lineAnchor: "middle", fontSize: 20})
  ]
});
document.getElementById("chart").appendChild(chart);

// ---------------- legend ----------------
const legendItems = [
  {label: "Layer seperation", stroke: "red", width: 1.3, dash: "5,2.5", top: 5},
  {label: "Pile base level (-12m NAP)", stroke: "blue", width: 5, dash: "18,8", top: 32}
];
const legend = document.getElementById("legend");
legendItems.forEach(it => {
  const div = document.createElement("div");
  div.className = "item";
  div.style.top = it.top + "px";
  div.innerHTML = `<svg width="34" height="12"><line x1="0" y1="6" x2="34" y2="6" stroke="${it.stroke}" stroke-width="${it.width}" stroke-dasharray="${it.dash}"/></svg><span>${it.label}</span>`;
  legend.appendChild(div);
});

// ---------------- table ----------------
const table = document.getElementById("table");
const ruleYs = [390, 498, 545, 606, 649, 686, 732, 784];
const col1 = 901, col2 = 1119;
const rowTextY = [520, 565, 625, 670, 708, 750];
ruleYs.forEach(y => {
  const r = document.createElement("div");
  r.className = "rule";
  r.style.top = (y - 1) + "px";
  table.appendChild(r);
});
function cell(x, y, html, bold) {
  const c = document.createElement("div");
  c.className = "cell" + (bold ? " b" : "");
  c.style.left = x + "px";
  c.style.top = y + "px";
  c.innerHTML = html;
  table.appendChild(c);
}
cell(col1, 412, "Soil layer", true);
cell(col2, 412, "Starting", true);
cell(col2, 447, "Depth [-m", true);
cell(col2, 482, "NAP]", true);
layerOrdinal.forEach((o, i) => {
  cell(col1, rowTextY[i], `${o}<sup>${layerSuffix[i]}</sup> ${layerName[i]}`, true);
  cell(col2, rowTextY[i], String(layerStart[i]), false);
});
</script>
</body>
</html>
